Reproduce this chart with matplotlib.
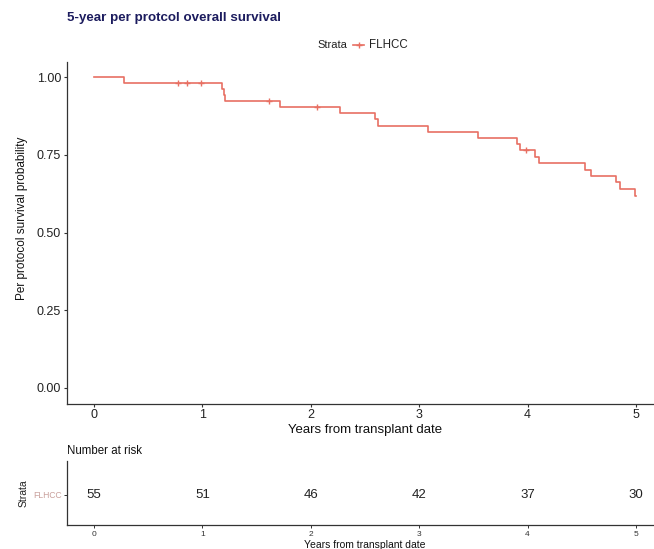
import matplotlib
matplotlib.use("Agg")
import matplotlib.pyplot as plt
from matplotlib.lines import Line2D

plt.rcParams['font.family'] = ['Liberation Sans', 'DejaVu Sans']

# ---- data ----
step_times = [0.0, 0.28, 1.18, 1.195, 1.21, 1.72, 2.27, 2.59, 2.62, 3.08, 3.54,
              3.90, 3.93, 4.07, 4.11, 4.53, 4.59, 4.82, 4.85, 4.99, 5.00]
step_surv = [1.000, 0.982, 0.963, 0.943, 0.924, 0.904, 0.884, 0.864, 0.844, 0.824, 0.804,
             0.784, 0.764, 0.743, 0.722, 0.702, 0.681, 0.661, 0.640, 0.619, 0.619]
censor_times = [0.77, 0.86, 0.99, 1.61, 2.06, 3.99]
censor_surv = [0.982, 0.982, 0.982, 0.924, 0.904, 0.764]

risk_times = [0, 1, 2, 3, 4, 5]
risk_counts = [55, 51, 46, 42, 37, 30]
y_ticks = [0.00, 0.25, 0.50, 0.75, 1.00]
y_tick_labels = ["0.00", "0.25", "0.50", "0.75", "1.00"]
strata_name = "FLHCC"

line_color = "#E87063"
W, H = 654, 549

fig = plt.figure(figsize=(W / 100, H / 100), dpi=100)

def px_axes(left, top, right, bottom):
    return fig.add_axes([left / W, 1 - bottom / H, (right - left) / W, (bottom - top) / H])

# main panel
ax = px_axes(67, 61.5, 663, 403.5)
ax.step(step_times, step_surv, where='post', color=line_color, lw=1.2)
ax.plot(censor_times, censor_surv, ls='none', marker='+', color=line_color, ms=5, mew=1.0)
ax.set_xlim(-0.25, 5.25)
ax.set_ylim(-0.05, 1.05)
ax.set_xticks(risk_times)
ax.set_xticklabels([str(t) for t in risk_times])
ax.set_yticks(y_ticks)
ax.set_yticklabels(y_tick_labels)
for s in ['top', 'right']:
    ax.spines[s].set_visible(False)
for s in ['left', 'bottom']:
    ax.spines[s].set_color('#333333')
    ax.spines[s].set_linewidth(0.9)
ax.tick_params(axis='both', length=2.5, width=0.8, color='#333333', labelsize=9,
               labelcolor='#222222', pad=1.8)

fig.text(365 / W, 1 - 430 / H, "Years from transplant date", ha='center', va='center',
         fontsize=9.5, color='#111111')
fig.text(22 / W, 1 - 218 / H, "Per protocol survival probability", ha='center', va='center',
         rotation=90, fontsize=8.5, color='#111111')

# title
fig.text(67 / W, 1 - 18 / H, "5-year per protcol overall survival", ha='left', va='center',
         fontsize=9.6, fontweight='bold', color='#1C1C5E')

# legend
ly = 1 - 45 / H
fig.text(347 / W, ly, "Strata", ha='right', va='center', fontsize=8, color='#222222')
fig.add_artist(Line2D([353 / W, 364 / W], [ly, ly], color=line_color, lw=1.2,
                      transform=fig.transFigure))
fig.add_artist(Line2D([358.5 / W], [ly], color=line_color, marker='+', ms=5, mew=1.0,
                      ls='none', transform=fig.transFigure))
fig.text(369 / W, ly, strata_name, ha='left', va='center', fontsize=8.3, color='#222222')

# risk table
ax2 = px_axes(67, 460.7, 663, 525)
ax2.set_xlim(-0.25, 5.25)
ax2.set_ylim(0.533, 1.533)
for t, n in zip(risk_times, risk_counts):
    ax2.text(t, 1, str(n), ha='center', va='center', fontsize=9.5, color='#222222')
ax2.set_xticks(risk_times)
ax2.set_xticklabels([str(t) for t in risk_times])
ax2.set_yticks([1])
ax2.set_yticklabels([strata_name])
ax2.get_yticklabels()[0].set_color('#C9A09C')
for s in ['top', 'right']:
    ax2.spines[s].set_visible(False)
for s in ['left', 'bottom']:
    ax2.spines[s].set_color('#333333')
    ax2.spines[s].set_linewidth(0.9)
ax2.tick_params(axis='x', length=2, width=0.7, color='#333333', labelsize=6,
                labelcolor='#333333', pad=2)
ax2.tick_params(axis='y', length=2, width=0.7, color='#333333', labelsize=6.2, pad=1.5)

fig.text(67 / W, 1 - 450.5 / H, "Number at risk", ha='left', va='center', fontsize=8.3,
         color='#111111')
fig.text(24 / W, 1 - 493 / H, "Strata", ha='center', va='center', rotation=90,
         fontsize=7.5, color='#222222')
fig.text(365 / W, 1 - 545 / H, "Years from transplant date", ha='center', va='center',
         fontsize=7.5, color='#111111')

fig.savefig("out.png", dpi=100)
